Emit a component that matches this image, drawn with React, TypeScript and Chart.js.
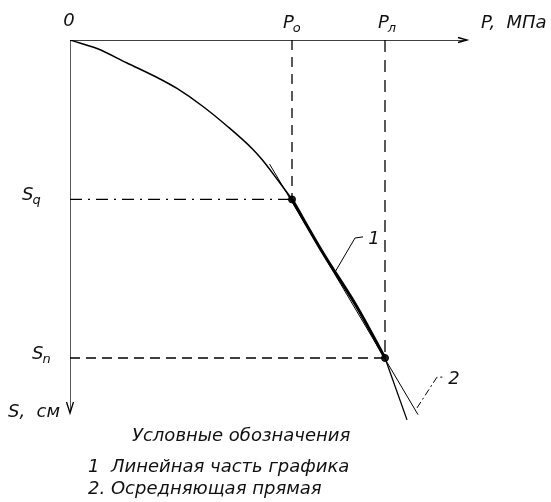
import React, { useEffect, useRef } from "react";
import { Chart, registerables } from "chart.js";

Chart.register(...registerables);

// ---- data (P in conventional units, S in conventional units, S grows downward) ----
const P_MAX = 100;
const S_MAX = 104;
const P0 = 55.5;
const PL = 78.75;
const SQ = 42.5;
const SN = 84.8;
const AXIS_P_END = 99.25;
const AXIS_S_END = 99.2;

const curveP = [0, 6.75, 14.25, 22.5, 26.75, 33.25, 39.25, 45.5, 48, 51.75, 55.5];
const curveS = [0, 2.27, 6.13, 10.4, 12.93, 17.73, 22.93, 28.93, 31.87, 37.07, 42.5];
const linearP = [55.5, 63.25, 71.75, 78.75];
const linearS = [42.5, 56.8, 71.2, 84.8];
const tailP = [78.75, 84.25];
const tailS = [84.8, 101.3];
const avgLineP = [49.9, 87];
const avgLineS = [33.1, 99.9];
const leader1P = [66.25, 71.25, 73.25];
const leader1S = [61.9, 52.8, 52.5];
const leader2P = [86.75, 91.75, 93.25];
const leader2S = [98.1, 89.9, 89.9];

const legendTitle = "Условные обозначения";
const legendItems = ["1  Линейная часть графика", "2. Осредняющая прямая"];

const FONT = "italic 18px 'DejaVu Sans', sans-serif";
const SUB_FONT = "italic 13px 'DejaVu Sans', sans-serif";
const INK = "#000";

const pts = (xs: number[], ys: number[]) => xs.map((x, i) => ({ x, y: ys[i] }));

function drawSub(ctx: CanvasRenderingContext2D, main: string, sub: string, x: number, y: number) {
  ctx.font = FONT;
  ctx.textAlign = "left";
  ctx.textBaseline = "alphabetic";
  ctx.fillText(main, x, y);
  const w = ctx.measureText(main).width;
  ctx.font = SUB_FONT;
  ctx.fillText(sub, x + w - 1, y + 4);
}

const annotationPlugin = {
  id: "annotations",
  afterDatasetsDraw(chart: any) {
    const ctx: CanvasRenderingContext2D = chart.ctx;
    const xs = chart.scales.x;
    const ys = chart.scales.y;
    const px = (v: number) => xs.getPixelForValue(v);
    const py = (v: number) => ys.getPixelForValue(v);
    ctx.save();
    ctx.strokeStyle = INK;
    ctx.fillStyle = "#111";
    ctx.lineWidth = 1.3;
    ctx.setLineDash([]);
    // x arrow
    const ax = px(AXIS_P_END);
    const ay = py(0);
    ctx.beginPath();
    ctx.moveTo(ax - 9, ay - 2.5);
    ctx.lineTo(ax, ay);
    ctx.lineTo(ax - 9, ay + 2.5);
    ctx.stroke();
    // y arrow
    const bx = px(0);
    const by = py(AXIS_S_END) + 1;
    ctx.beginPath();
    ctx.moveTo(bx - 3.5, by - 11);
    ctx.lineTo(bx, by);
    ctx.lineTo(bx + 3.5, by - 11);
    ctx.stroke();

    // axis labels
    ctx.font = FONT;
    ctx.textBaseline = "alphabetic";
    ctx.textAlign = "center";
    ctx.fillText("0", px(0) - 1, py(0) - 14);
    drawSub(ctx, "P", "o", px(P0) - 9, py(0) - 12);
    drawSub(ctx, "P", "л", px(PL) - 7, py(0) - 12);
    ctx.font = FONT;
    ctx.textAlign = "left";
    ctx.fillText("P,  МПа", px(AXIS_P_END) + 14, py(0) - 12);
    drawSub(ctx, "S", "q", px(0) - 48, py(SQ) + 1);
    drawSub(ctx, "S", "n", px(0) - 38, py(SN) + 1);
    ctx.font = FONT;
    ctx.fillText("S,  см", px(0) - 62, py(AXIS_S_END) + 5);

    // leader numbers
    ctx.textAlign = "center";
    ctx.fillText("1", px(leader1P[2]) + 11, py(leader1S[2]) + 7);
    ctx.fillText("2", px(leader2P[2]) + 11, py(leader2S[2]) + 7);

    // legend block
    ctx.textAlign = "left";
    ctx.fillText(legendTitle, 132, 441);
    ctx.fillText(legendItems[0], 88, 472);
    ctx.fillText(legendItems[1], 88, 494);
    ctx.restore();
  },
};

export default function App() {
  const ref = useRef<HTMLCanvasElement | null>(null);
  useEffect(() => {
    if (!ref.current) return;
    const line = (data: any[], width: number, dash: number[] = [], extra: any = {}) => ({
      data,
      showLine: true,
      borderColor: INK,
      backgroundColor: INK,
      borderWidth: width,
      borderDash: dash,
      pointRadius: 0,
      tension: 0,
      ...extra,
    });
    const chart = new Chart(ref.current, {
      type: "scatter",
      data: {
        datasets: [
          line([{ x: 0, y: 0 }, { x: AXIS_P_END, y: 0 }], 1.3),
          line([{ x: 0, y: 0 }, { x: 0, y: AXIS_S_END }], 1.3),
          line([{ x: P0, y: 0 }, { x: P0, y: SQ }], 1.3, [10, 7]),
          line([{ x: PL, y: 0 }, { x: PL, y: SN }], 1.3, [12, 8]),
          line([{ x: 0, y: SQ }, { x: P0, y: SQ }], 1.3, [12, 6, 2, 6]),
          line([{ x: 0, y: SN }, { x: PL, y: SN }], 1.3, [10, 6]),
          line(pts(curveP, curveS), 1.5, [], { cubicInterpolationMode: "monotone" }),
          line(pts(linearP, linearS), 3, [], { cubicInterpolationMode: "monotone" }),
          line(pts(tailP, tailS), 1.3),
          line(pts(avgLineP, avgLineS), 1),
          line(pts(leader1P, leader1S), 1),
          line(pts(leader2P, leader2S), 1, [7, 3, 2, 3]),
          {
            data: [{ x: P0, y: SQ }, { x: PL, y: SN }],
            showLine: false,
            pointRadius: 3.5,
            pointBackgroundColor: "#222",
            pointBorderColor: INK,
            pointBorderWidth: 1,
          },
        ],
      },
      options: {
        animation: false,
        responsive: false,
        devicePixelRatio: 1,
        layout: { padding: { left: 70, top: 40, right: 81, bottom: 72 } },
        scales: {
          x: { type: "linear", min: 0, max: P_MAX, display: false },
          y: { type: "linear", min: 0, max: S_MAX, reverse: true, display: false },
        },
        plugins: { legend: { display: false }, tooltip: { enabled: false } },
      },
      plugins: [annotationPlugin],
    });
    return () => chart.destroy();
  }, []);
  return (
    <div style={{ position: "fixed", left: 0, top: 0, width: 551, height: 502, background: "#fff" }}>
      <canvas ref={ref} width={551} height={502} style={{ width: 551, height: 502, display: "block" }} />
    </div>
  );
}
